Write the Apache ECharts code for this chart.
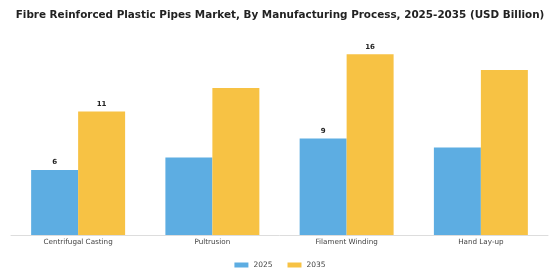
<!DOCTYPE html>
<html>
<head>
<meta charset="utf-8">
<script src="https://cdn.jsdelivr.net/npm/echarts@6/dist/echarts.min.js"></script>
<style>
html, body { margin: 0; padding: 0; background: #fff; }
#chart { width: 560px; height: 280px; }
</style>
</head>
<body>
<div id="chart"></div>
<script>
var categories = ['Centrifugal Casting', 'Pultrusion', 'Filament Winding', 'Hand Lay-up'];
var years = ['2025', '2035'];
var values2025 = [5.8, 6.9, 8.6, 7.8];
var values2035 = [11.0, 13.1, 16.1, 14.7];
// which bars carry a value label
var labeled2025 = [true, false, true, false];
var labeled2035 = [true, false, true, false];

function withLabels(values, flags) {
    return values.map(function (v, i) {
        return {
            value: v,
            label: {
                show: flags[i],
                position: 'top',
                distance: 4,
                fontSize: 7,
                fontWeight: 'bold',
                color: '#222',
                fontFamily: 'DejaVu Sans',
                formatter: function (p) { return Math.round(p.value); }
            }
        };
    });
}

var myChart = echarts.init(document.getElementById('chart'));

var option = {
    animation: false,
    title: {
        text: 'Fibre Reinforced Plastic Pipes Market, By Manufacturing Process, 2025-2035 (USD Billion)',
        left: 'center',
        top: 5,
        textStyle: {
            fontFamily: 'DejaVu Sans',
            fontSize: 10.4,
            fontWeight: 'bold',
            color: '#222'
        }
    },
    legend: {
        data: years,
        bottom: 6,
        left: 'center',
        itemWidth: 14,
        itemHeight: 5,
        itemGap: 15,
        icon: 'rect',
        textStyle: { fontFamily: 'DejaVu Sans', fontSize: 7.5, color: '#444' }
    },
    grid: { left: 11, right: 12, top: 33, bottom: 45 },
    xAxis: {
        type: 'category',
        data: categories,
        axisTick: { show: false },
        axisLine: { lineStyle: { color: '#ddd' } },
        axisLabel: { fontFamily: 'DejaVu Sans', fontSize: 7.2, color: '#444', margin: 4 }
    },
    yAxis: {
        type: 'value',
        min: 0,
        max: 18,
        show: false
    },
    series: [
        {
            name: years[0],
            type: 'bar',
            barGap: '0%',
            barCategoryGap: '30%',
            itemStyle: { color: '#5DADE2' },
            data: withLabels(values2025, labeled2025)
        },
        {
            name: years[1],
            type: 'bar',
            barGap: '0%',
            barCategoryGap: '30%',
            itemStyle: { color: '#F7C244' },
            data: withLabels(values2035, labeled2035)
        }
    ]
};

myChart.setOption(option);
</script>
</body>
</html>
